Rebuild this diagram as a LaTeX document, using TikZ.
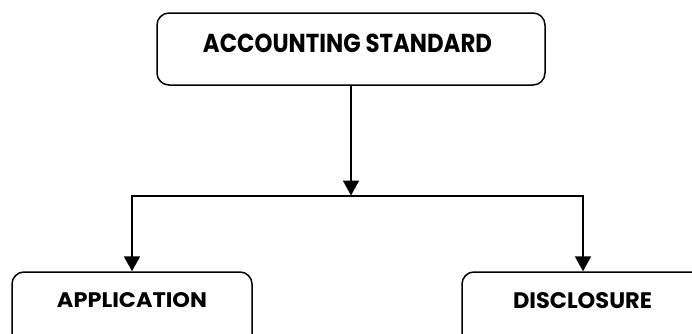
\documentclass[tikz,border=0pt]{standalone}
\usepackage{graphicx}
\usepackage{fontspec}
\setmainfont{Poppins}
\usetikzlibrary{arrows.meta}
\tikzset{
  box/.style={draw, line width=1.5pt, rounded corners=12pt, inner sep=0pt},
  conn/.style={line width=2pt, -{Triangle[length=15pt,width=16pt]}},
  caption/.style={font=\bfseries, anchor=base, inner sep=0pt}
}
% bold caption squeezed to a given width and cap height
\newcommand{\fitcaption}[3]{\resizebox{#1}{#2}{#3}}
\begin{document}
\begin{tikzpicture}[x=1pt,y=1pt]
\useasboundingbox (0,0) rectangle (692,333);
\clip (0,0) rectangle (692,333);
% top box
\node[box, minimum width=388pt, minimum height=72pt] (std) at (351,284) {};
\node[caption] (stdtext) at (347.5,281) {\fitcaption{289pt}{18.5pt}{ACCOUNTING STANDARD}};
% lower boxes (running off the page edge)
\node[box, minimum width=240pt, minimum height=101pt] (app) at (132,10.5) {};
\node[caption] (apptext) at (132,26) {\fitcaption{150pt}{15pt}{APPLICATION}};
\node[box, minimum width=242pt, minimum height=101pt] (dis) at (583,10.5) {};
\node[caption] (distext) at (582.5,25) {\fitcaption{139pt}{16pt}{DISCLOSURE}};
% connectors
\coordinate (hub) at (351,137.5);
\draw[conn] (std.south) -- (hub);
\draw[conn] (hub) -| (app.north);
\draw[conn] (hub) -| (dis.north);
\end{tikzpicture}
\end{document}
